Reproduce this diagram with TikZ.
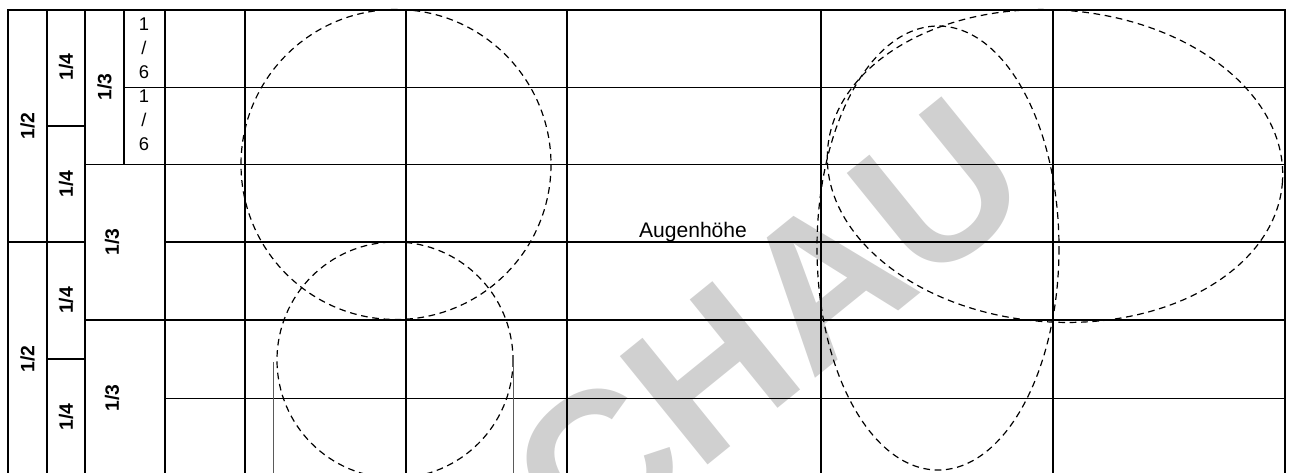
\documentclass[tikz,border=0pt]{standalone}
\usepackage{fontspec}
\setmainfont{Liberation Sans}
\definecolor{wmgray}{RGB}{208,208,208}
\definecolor{guidegray}{RGB}{90,90,90}
\begin{document}
\begin{tikzpicture}[x=0.75pt,y=-0.75pt,
  grid/.style={line width=1.2pt},
  guide/.style={dash pattern=on 5pt off 3.5pt, line width=0.9pt},
  thinline/.style={guidegray, line width=0.7pt},
  frac/.style={font=\fontsize{14.5}{16}\selectfont\bfseries, rotate=90, inner sep=0pt},
  sixth/.style={font=\fontsize{13.8}{18}\selectfont, align=center, inner sep=0pt, anchor=north},
  wm/.style={font=\fontsize{152}{152}\selectfont\bfseries, text=wmgray, rotate=39, inner sep=0pt}]
\useasboundingbox (0,0) rectangle (1292,472);
\clip (0,0) rectangle (1292,472);
% watermark
\node[wm] (wm) at (767.7,327.4) {CHAU};
% grid
\draw[grid] (8,480) -- (8,10) -- (1285,10) -- (1285,480);
\foreach \x in {47,85,165,245,406,567,821,1053}
  \draw[grid] (\x,10) -- (\x,480);
\draw[grid] (124,10) -- (124,164.6);
\draw[grid] (124,87.3) -- (1285,87.3);
\draw[grid] (47,126) -- (85,126);
\draw[grid] (85,164.6) -- (1285,164.6);
\draw[grid] (8,242) -- (85,242);
\draw[grid] (165,242) -- (1285,242);
\draw[grid] (85,320) -- (1285,320);
\draw[grid] (47,359) -- (85,359);
\draw[grid] (165,398.5) -- (1285,398.5);
% dashed guides
\draw[guide] (396,164.5) ellipse [x radius=155, y radius=155];
\draw[guide] (395,360) ellipse [x radius=118, y radius=118];
\draw[guide, rotate around={-4:(1055,166)}] (1055,166) ellipse [x radius=228, y radius=156];
\draw[guide] (938,248) ellipse [x radius=121, y radius=222];
\draw[thinline] (273.7,362) -- (273.7,480);
\draw[thinline] (513.7,362) -- (513.7,480);
% labels
\node[frac] (h1) at (27.5,126) {1/2};
\node[frac] (h2) at (27.5,359) {1/2};
\node[frac] (q1) at (66,67) {1/4};
\node[frac] (q2) at (66,184) {1/4};
\node[frac] (q3) at (66,300.5) {1/4};
\node[frac] (q4) at (66,417) {1/4};
\node[frac] (t1) at (104.5,87) {1/3};
\node[frac] (t2) at (112,242) {1/3};
\node[frac] (t3) at (112,398) {1/3};
\node[sixth] (s1) at (144,18) {1\\/\\6};
\node[sixth] (s2) at (144,90) {1\\/\\6};
\node[font=\fontsize{15.8}{18}\selectfont, anchor=base, inner sep=0pt] (eye) at (693,237) {Augenhöhe};
\end{tikzpicture}
\end{document}
